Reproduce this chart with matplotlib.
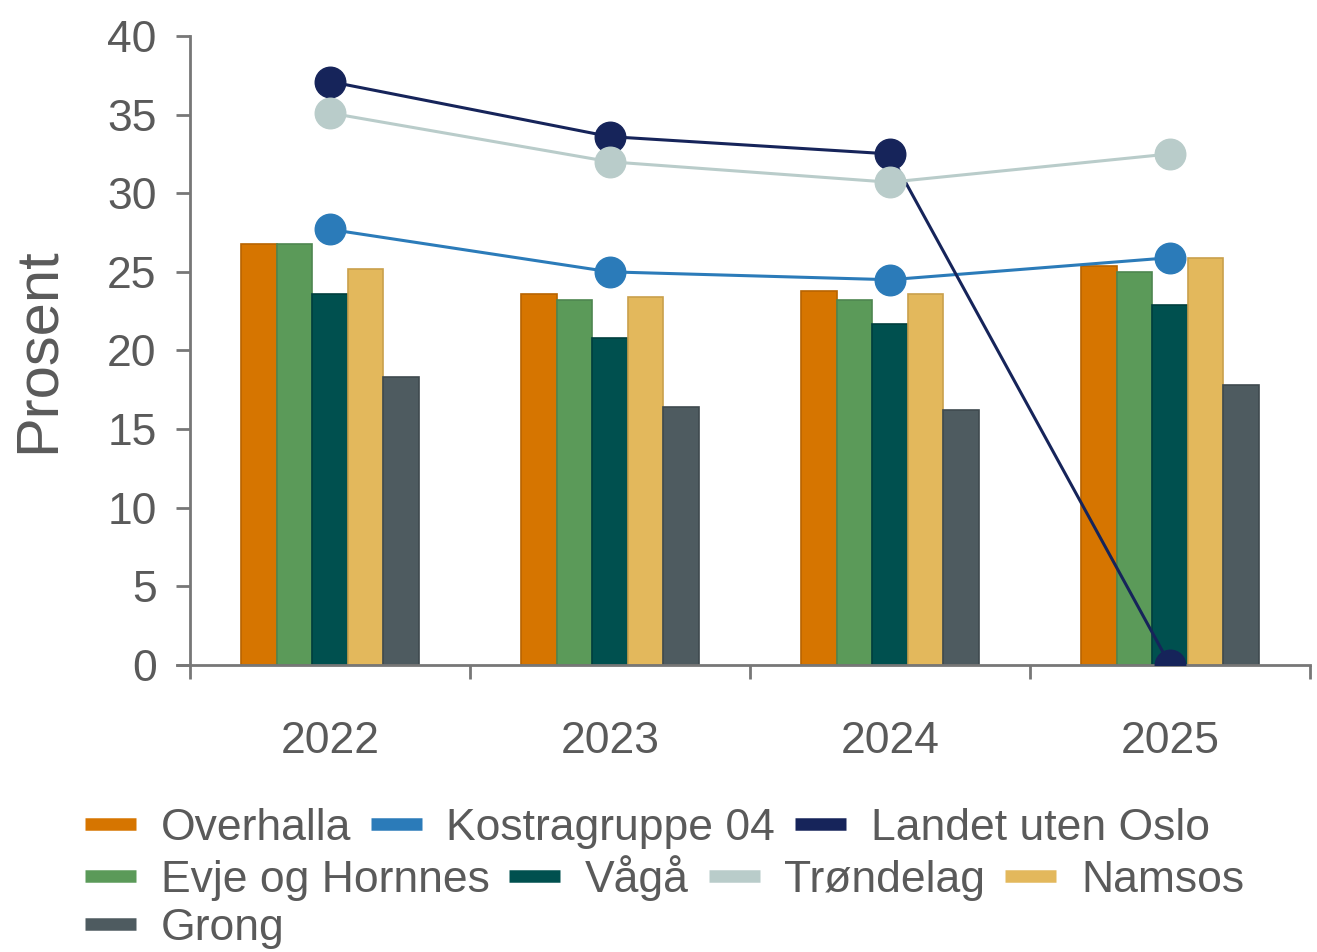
import matplotlib
matplotlib.use("Agg")
import matplotlib.pyplot as plt
import numpy as np
from matplotlib.lines import Line2D

plt.rcParams["font.family"] = ["Liberation Sans", "DejaVu Sans"]

years = ["2022", "2023", "2024", "2025"]

# bar series (Prosent)
bar_names = ["Overhalla", "Evje og Hornnes", "Vågå", "Namsos", "Grong"]
overhalla = [26.8, 23.6, 23.8, 25.4]
evje = [26.8, 23.2, 23.2, 25.0]
vaga = [23.6, 20.8, 21.7, 22.9]
namsos = [25.2, 23.4, 23.6, 25.9]
grong = [18.3, 16.4, 16.2, 17.8]

# line series
line_names = ["Kostragruppe 04", "Landet uten Oslo", "Trøndelag"]
kostra = [27.7, 25.0, 24.5, 25.9]
landet = [37.1, 33.6, 32.5, 0.0]
trondelag = [35.1, 32.0, 30.7, 32.5]

bar_colors = ["#D67500", "#5B9A59", "#00504F", "#E3B85C", "#4E5B60"]
bar_edges = ["#B86400", "#4E8650", "#003F3E", "#C9A04C", "#3F4A4F"]
line_colors = ["#2B7BB9", "#16245A", "#B9CCCA"]
TXT = "#5a5a5a"
AX = "#777777"

fig = plt.figure(figsize=(13.17, 9.52), dpi=100)
ax = fig.add_axes([0.1443, 0.3015, 0.8504, 0.6607])

x = np.arange(len(years))
w = 0.127
series = [overhalla, evje, vaga, namsos, grong]
for i, vals in enumerate(series):
    ax.bar(x + (i - 2) * w, vals, w, color=bar_colors[i],
           edgecolor=bar_edges[i], linewidth=1.2, zorder=2)

for vals, c in zip([kostra, landet, trondelag], line_colors):
    ax.plot(x, vals, "-o", color=c, lw=2.2, markersize=22, zorder=3)

ax.set_xlim(-0.5, 3.5)
ax.set_ylim(0, 40)
ax.set_yticks(range(0, 41, 5))
ax.set_xticks(x)
ax.set_xticklabels(years)
ax.set_xticks(np.arange(-0.5, 3.6, 1), minor=True)

for s in ["top", "right"]:
    ax.spines[s].set_visible(False)
for s in ["left", "bottom"]:
    ax.spines[s].set_color(AX)
    ax.spines[s].set_linewidth(2)
ax.spines["bottom"].set_bounds(-0.5 - 0.012 * 4, 3.5)

ax.tick_params(axis="y", colors=AX, labelcolor=TXT, labelsize=32,
               length=10, width=2, pad=14)
ax.tick_params(axis="x", which="major", length=0, labelcolor=TXT,
               labelsize=32, pad=40)
ax.tick_params(axis="x", which="minor", colors=AX, length=10, width=2)
ax.set_ylabel("Prosent", color=TXT, fontsize=43, labelpad=30)

# legend in three rows (flowing layout)
def h(c):
    return Line2D([0], [0], color=c, lw=9, solid_capstyle="butt")

rows = [
    [("Overhalla", bar_colors[0]), ("Kostragruppe 04", line_colors[0]),
     ("Landet uten Oslo", line_colors[1])],
    [("Evje og Hornnes", bar_colors[1]), ("Vågå", bar_colors[2]),
     ("Trøndelag", line_colors[2]), ("Namsos", bar_colors[3])],
    [("Grong", bar_colors[4])],
]
ys = [0.130, 0.0777, 0.0252]
for row, yy in zip(rows, ys):
    fig.legend([h(c) for _, c in row], [n for n, _ in row],
               loc="center left", bbox_to_anchor=(0.0645, yy),
               ncol=len(row), frameon=False, fontsize=32,
               labelcolor=TXT, handlelength=1.15, handletextpad=0.55,
               columnspacing=0.45, borderpad=0, borderaxespad=0)

fig.savefig("out.png", dpi=100)
